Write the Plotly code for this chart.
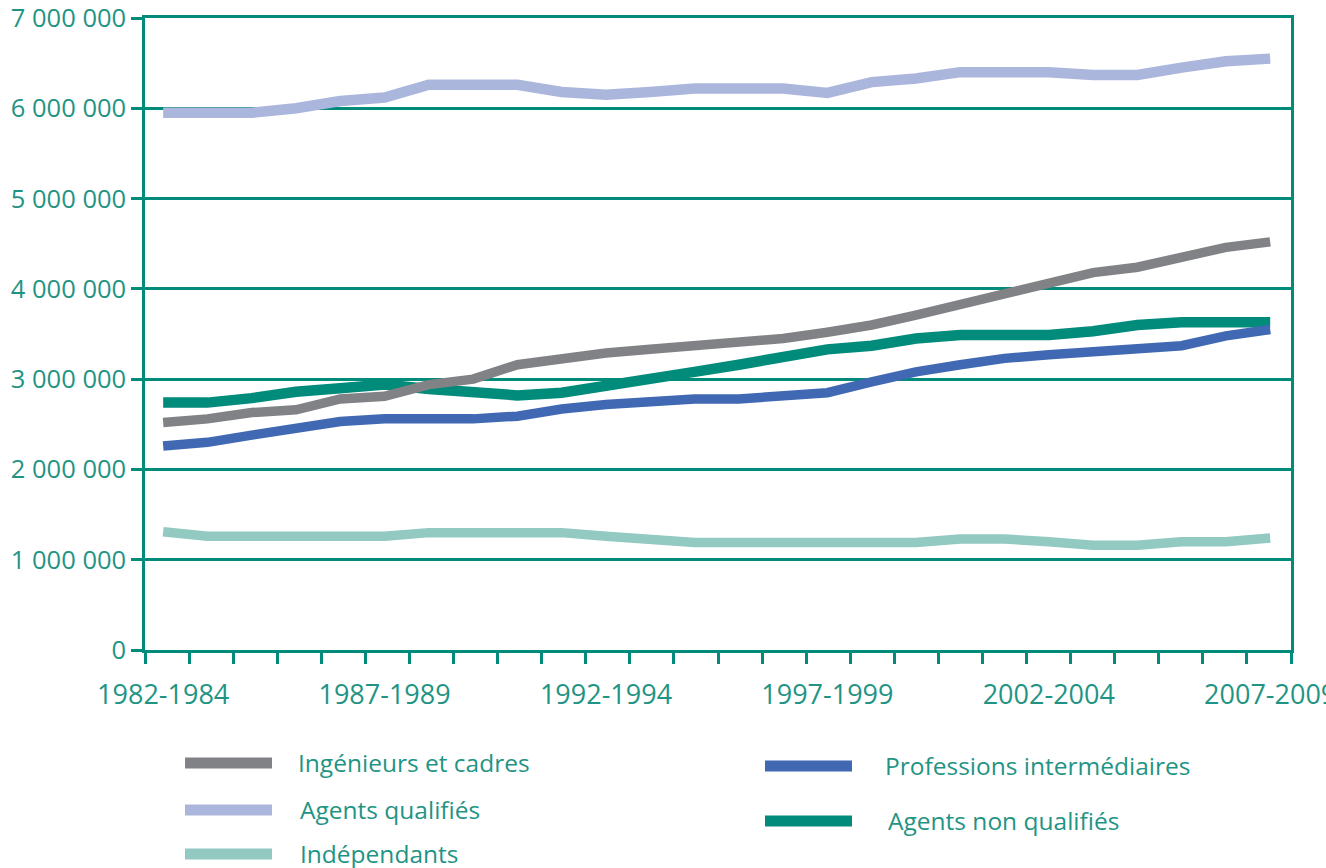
import plotly.graph_objects as go

periods = [f"{y}-{y+2}" for y in range(1982, 2008)]

ingenieurs = [2.52, 2.56, 2.63, 2.66, 2.78, 2.81, 2.94, 3.00, 3.16, 3.23, 3.29, 3.33, 3.37,
              3.41, 3.45, 3.52, 3.60, 3.71, 3.83, 3.95, 4.08, 4.18, 4.24, 4.35, 4.46, 4.52]
agents_qualifies = [5.95, 5.95, 5.95, 6.00, 6.08, 6.12, 6.26, 6.26, 6.26, 6.18, 6.15, 6.18, 6.22,
                    6.22, 6.22, 6.17, 6.29, 6.33, 6.40, 6.40, 6.40, 6.37, 6.37, 6.45, 6.52, 6.55]
independants = [1.31, 1.26, 1.26, 1.26, 1.26, 1.26, 1.30, 1.30, 1.30, 1.30, 1.26, 1.22, 1.19,
                1.19, 1.19, 1.19, 1.19, 1.19, 1.23, 1.23, 1.20, 1.16, 1.16, 1.20, 1.20, 1.24]
professions = [2.26, 2.30, 2.38, 2.46, 2.53, 2.56, 2.56, 2.56, 2.59, 2.67, 2.72, 2.75, 2.78,
               2.78, 2.81, 2.85, 2.97, 3.08, 3.16, 3.23, 3.27, 3.30, 3.34, 3.37, 3.48, 3.55]
non_qualifies = [2.74, 2.74, 2.79, 2.86, 2.90, 2.94, 2.89, 2.86, 2.82, 2.85, 2.92, 3.00, 3.08,
                 3.16, 3.24, 3.33, 3.37, 3.45, 3.49, 3.49, 3.49, 3.53, 3.60, 3.63, 3.63, 3.63]

y_ticks = [0, 1_000_000, 2_000_000, 3_000_000, 4_000_000, 5_000_000, 6_000_000, 7_000_000]
x_label_every = 5

TEAL = "#008b7a"
TEXT = "#1f9484"
FONT = "Open Sans"

series = [
    ("Indépendants", independants, "#92c9c1", 9.5),
    ("Agents qualifiés", agents_qualifies, "#abb6dc", 10.5),
    ("Agents non qualifiés", non_qualifies, "#008b7a", 10.5),
    ("Professions intermédiaires", professions, "#4169b3", 9.5),
    ("Ingénieurs et cadres", ingenieurs, "#808285", 9.5),
]

idx = list(range(len(periods)))
fig = go.Figure()
for name, vals, color, w in series:
    fig.add_trace(go.Scatter(
        x=idx, y=[v * 1_000_000 for v in vals], name=name, mode="lines",
        line=dict(color=color, width=w), showlegend=False,
        customdata=periods, hovertemplate="%{customdata}: %{y:,.0f}<extra>" + name + "</extra>",
    ))

W, H = 1326, 868
L, R, T, B = 145, 35, 18, 218
xmin, xmax = -0.41, 25.47
n = len(periods)
step = (xmax - xmin) / n

fig.update_layout(
    width=W, height=H, margin=dict(l=L, r=R, t=T, b=B, autoexpand=False),
    paper_bgcolor="white", plot_bgcolor="white",
    separators=", ",
    font=dict(family=FONT, color=TEXT),
    xaxis=dict(
        range=[xmin, xmax], tickmode="array",
        tickvals=idx[::x_label_every], ticktext=periods[::x_label_every],
        ticks="outside", ticklen=19, tickcolor="rgba(0,0,0,0)",
        tickfont=dict(size=27, color=TEXT, family=FONT),
        ticklabeloverflow="allow", automargin=False,
        showgrid=False, zeroline=False,
        showline=True, linecolor=TEAL, linewidth=2.5, mirror=True,
        minor=dict(tickmode="linear", tick0=xmin, dtick=step, ticks="outside",
                   ticklen=11, tickwidth=2.5, tickcolor=TEAL, showgrid=False),
    ),
    yaxis=dict(
        range=[0, 7_000_000], tickmode="array", tickvals=y_ticks, tickformat=",d",
        ticks="outside", ticklen=11, tickwidth=2.5, tickcolor=TEAL,
        tickfont=dict(size=25.5, color=TEXT, family=FONT),
        ticklabeloverflow="allow", automargin=False,
        showgrid=True, gridcolor=TEAL, gridwidth=2.5, zeroline=False,
        showline=True, linecolor=TEAL, linewidth=2.5, mirror=True,
    ),
)

# custom legend (two columns, long swatches)
legend_items = [
    ("Ingénieurs et cadres", "#808285", 185, 763, 298),
    ("Agents qualifiés", "#abb6dc", 185, 810, 300),
    ("Indépendants", "#92c9c1", 185, 854, 300),
    ("Professions intermédiaires", "#4169b3", 765, 766, 885),
    ("Agents non qualifiés", "#008b7a", 765, 821, 888),
]
pw, ph = W - L - R, H - T - B
def px(x): return (x - L) / pw
def py(y): return (H - B - y) / ph
for name, color, x0, y0, tx in legend_items:
    fig.add_shape(type="line", xref="paper", yref="paper",
                  x0=px(x0), x1=px(x0 + 87), y0=py(y0), y1=py(y0),
                  line=dict(color=color, width=11))
    fig.add_annotation(xref="paper", yref="paper", x=px(tx - 2), y=py(y0 - 1),
                       text=name, showarrow=False, xanchor="left", yanchor="middle",
                       font=dict(size=24.5, color=TEXT, family=FONT))

fig.write_html("out.html", config={"displayModeBar": False},
               post_script="document.body.style.margin='0';document.body.style.overflow='hidden';")
